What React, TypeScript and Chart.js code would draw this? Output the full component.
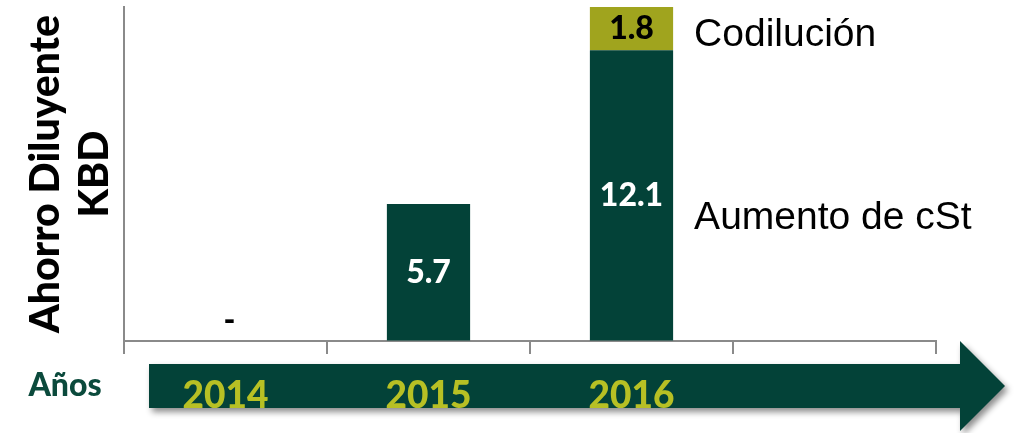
import { useEffect, useRef } from 'react';
import { Chart, registerables } from 'chart.js';

Chart.register(...registerables);

const categories = ['2014', '2015', '2016', ''];
const aumentoCst = [0, 5.7, 12.1, null];
const codilucion = [null, null, 1.8, null];
const seriesNames = ['Aumento de cSt', 'Codilución'];
const yTitle = ['Ahorro Diluyente', 'KBD'];
const xTitle = 'Años';
const yMax = 13.9;

const DARK = '#034238';
const OLIVE = '#a0a41e';
const YEAR = '#b7c024';
const AXIS = '#8a8a8a';
const CAL = 'Lato, "Open Sans", sans-serif';

const arrowPlugin = {
  id: 'arrowBand',
  beforeDraw(chart: any) {
    const { ctx, chartArea } = chart;
    const left = chartArea.left + 25;
    const bodyTop = chartArea.bottom + 23;
    const bodyBottom = chartArea.bottom + 67;
    const headTop = chartArea.bottom;
    const headBottom = chart.height - 2;
    const tipX = chart.width - 18;
    const baseX = tipX - 45;
    const tipY = (headTop + headBottom) / 2;
    ctx.save();
    ctx.shadowColor = 'rgba(0,0,0,0.45)';
    ctx.shadowBlur = 6;
    ctx.shadowOffsetX = 3;
    ctx.shadowOffsetY = 4;
    ctx.fillStyle = DARK;
    ctx.beginPath();
    ctx.moveTo(left, bodyTop);
    ctx.lineTo(baseX, bodyTop);
    ctx.lineTo(baseX, headTop);
    ctx.lineTo(tipX, tipY);
    ctx.lineTo(baseX, headBottom);
    ctx.lineTo(baseX, bodyBottom);
    ctx.lineTo(left, bodyBottom);
    ctx.closePath();
    ctx.fill();
    ctx.restore();

    ctx.save();
    ctx.fillStyle = '#0b4a3c';
    ctx.font = `900 32px ${CAL}`;
    ctx.textAlign = 'center';
    ctx.textBaseline = 'middle';
    ctx.fillText(xTitle, chartArea.left - 59, chartArea.bottom + 45);
    ctx.restore();
  },
};

const labelPlugin = {
  id: 'barLabels',
  afterDatasetsDraw(chart: any) {
    const { ctx } = chart;
    ctx.save();
    ctx.textAlign = 'center';
    ctx.textBaseline = 'middle';
    ctx.font = `900 32px ${CAL}`;
    chart.data.datasets.forEach((ds: any, di: number) => {
      const meta = chart.getDatasetMeta(di);
      let lastEl: any = null;
      ds.data.forEach((v: number | null, i: number) => {
        if (v === null || v === undefined) return;
        const el: any = meta.data[i];
        lastEl = el;
        if (v === 0) {
          ctx.fillStyle = '#000';
          ctx.fillText('-', el.x + 4, el.base - 20);
          return;
        }
        ctx.fillStyle = di === 0 ? '#ffffff' : '#000000';
        ctx.fillText(v.toFixed(1), el.x, (el.y + el.base) / 2);
      });
      if (lastEl) {
        ctx.save();
        ctx.fillStyle = '#000';
        ctx.textAlign = 'left';
        ctx.font = '39px "Liberation Sans", Arial, sans-serif';
        const off = di === 0 ? 23 : 7;
        ctx.fillText(ds.label, lastEl.x + lastEl.width / 2 + 21, (lastEl.y + lastEl.base) / 2 + off);
        ctx.restore();
      }
    });
    ctx.restore();
  },
};

export default function App() {
  const ref = useRef<HTMLCanvasElement>(null);
  useEffect(() => {
    if (!ref.current) return;
    const chart = new Chart(ref.current, {
      type: 'bar',
      data: {
        labels: categories,
        datasets: [
          { label: seriesNames[0], data: aumentoCst as any, backgroundColor: DARK, borderWidth: 0 },
          { label: seriesNames[1], data: codilucion as any, backgroundColor: OLIVE, borderWidth: 0 },
        ],
      },
      options: {
        responsive: false,
        animation: false,
        layout: { padding: { top: 7, right: 87, left: 0, bottom: 0 } },
        datasets: { bar: { categoryPercentage: 1, barPercentage: 0.41 } },
        plugins: { legend: { display: false }, tooltip: { enabled: false } },
        scales: {
          x: {
            stacked: true,
            afterFit: (s: any) => { s.height = 92; },
            border: { display: true, color: AXIS, width: 2 },
            grid: { drawOnChartArea: false, drawTicks: true, tickLength: 13, color: AXIS, lineWidth: 2, offset: true },
            ticks: { color: YEAR, font: { family: CAL, size: 37, weight: '900' }, padding: 20, maxRotation: 0, autoSkip: false },
          },
          y: {
            stacked: true,
            min: 0,
            max: yMax,
            afterFit: (s: any) => { s.width = 124; },
            border: { display: true, color: AXIS, width: 2 },
            grid: { drawOnChartArea: false, drawTicks: false },
            ticks: { display: false },
            title: {
              display: true,
              text: yTitle,
              color: '#000',
              font: { family: CAL, size: 41, weight: '900', lineHeight: 1.2 },
              padding: { top: 21, bottom: 0 },
            },
          },
        },
      },
      plugins: [arrowPlugin, labelPlugin],
    } as any);
    return () => chart.destroy();
  }, []);
  return (
    <div style={{ position: 'fixed', left: 0, top: 0, width: 1023, height: 433, background: '#fff' }}>
      <canvas ref={ref} width={1023} height={433} style={{ display: 'block' }} />
    </div>
  );
}
